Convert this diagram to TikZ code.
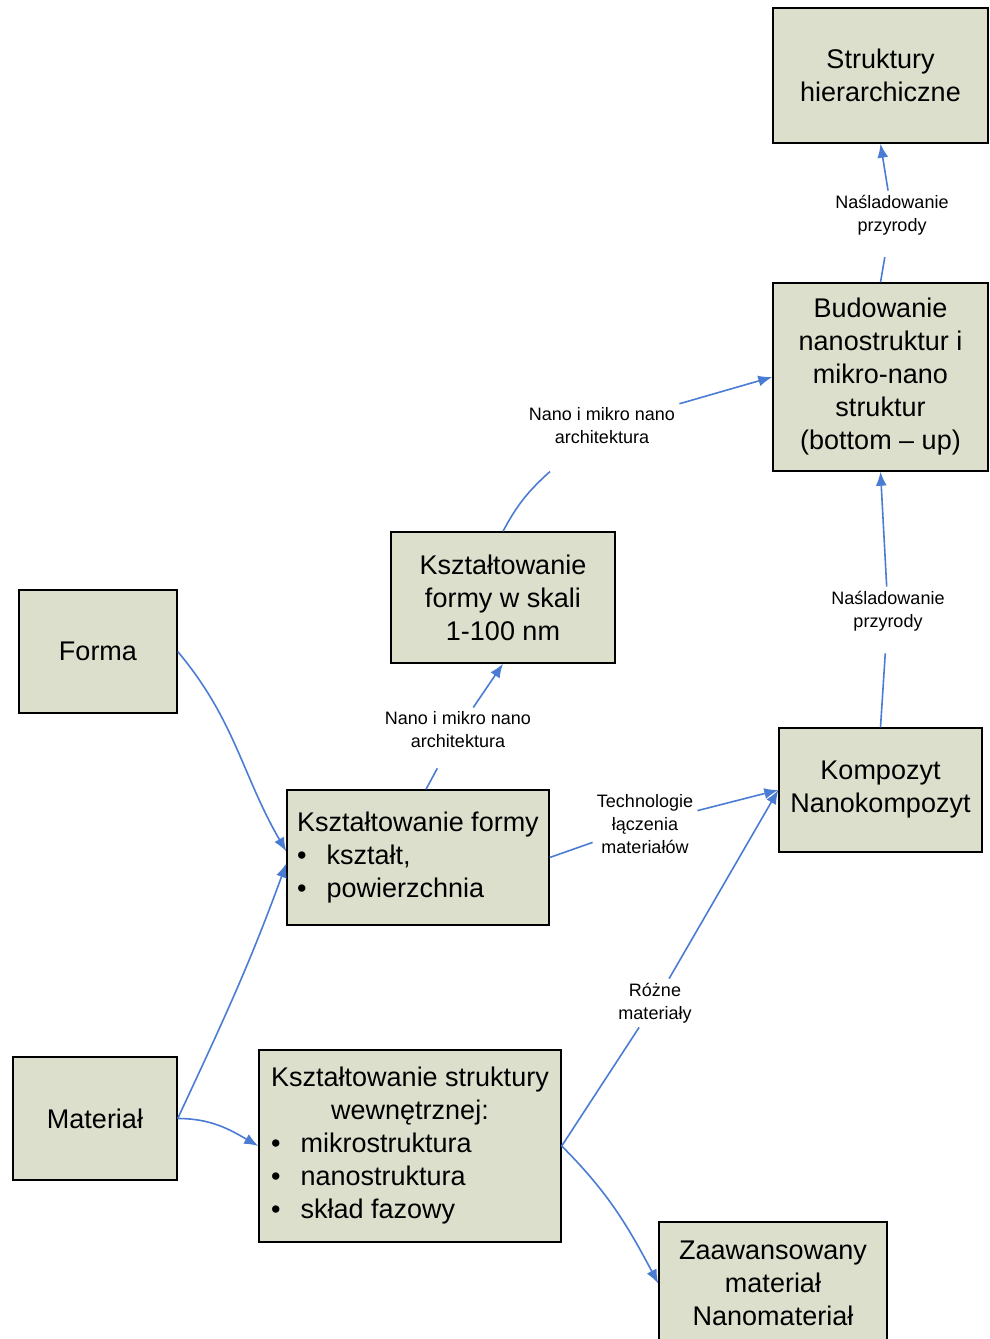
\documentclass[tikz,border=0pt]{standalone}
\usepackage{fontspec}
\setmainfont{Liberation Sans}
\usetikzlibrary{arrows.meta}
\definecolor{boxfill}{RGB}{221,223,205}
\definecolor{arrblue}{RGB}{74,124,212}
\tikzset{
  box/.style={draw=black, line width=0.7pt, fill=boxfill, align=center, inner sep=2pt,
    font=\fontsize{13.5}{16.5}\selectfont},
  lbl/.style={align=center, inner sep=2pt, font=\fontsize{9}{11.5}\selectfont},
  arr/.style={draw=arrblue, line width=0.8pt, -{Latex[length=7pt,width=5.5pt]}},
  con/.style={draw=arrblue, line width=0.8pt}
}
\begin{document}
\begin{tikzpicture}[x=0.5pt, y=-0.5pt]
    \useasboundingbox (0,0) rectangle (990,1339);

%boxes
    \node[box, minimum width=107.5pt, minimum height=67.5pt] (hier) at (880.5,75.5) {Struktury\\hierarchiczne};
    \node[box, minimum width=107.5pt, minimum height=94pt] (bud) at (880.5,377) {Budowanie\\nanostruktur i\\mikro-nano\\struktur\\(bottom -- up)};
    \node[box, minimum width=112pt, minimum height=65.5pt] (skala) at (503,597.5) {Kształtowanie\\formy w skali\\1-100 nm};
    \node[box, minimum width=79pt, minimum height=61.5pt] (forma) at (98,651.5) {Forma};
    \node[box, minimum width=131pt, minimum height=67.5pt] (ksztf) at (418,857.5) {%
      \begin{tabular}{@{}l@{\hspace{10pt}}l@{}}
      \multicolumn{2}{@{}l@{}}{Kształtowanie formy}\\
      \textbullet & kształt,\\
      \textbullet & powierzchnia
      \end{tabular}};
    \node[box, minimum width=101.5pt, minimum height=62pt] (komp) at (880.5,790) {Kompozyt\\Nanokompozyt};
    \node[box, minimum width=82pt, minimum height=61.5pt] (mat) at (95,1118.5) {Materiał};
    \node[box, minimum width=151pt, minimum height=96pt] (struk) at (410,1146) {%
      \begin{tabular}{@{}l@{\hspace{10pt}}l@{}}
      \multicolumn{2}{@{}c@{}}{Kształtowanie struktury}\\
      \multicolumn{2}{@{}c@{}}{wewnętrznej:}\\
      \textbullet & mikrostruktura\\
      \textbullet & nanostruktura\\
      \textbullet & skład fazowy
      \end{tabular}};
    \node[box, minimum width=114pt, minimum height=61.5pt] (zaaw) at (773,1283.5) {Zaawansowany\\materiał\\Nanomateriał};

%labels
    \node[lbl] (nasl2) at (892,215) {Naśladowanie\\przyrody};
    \node[lbl] (nano2) at (602,426) {Nano i mikro nano\\architektura};
    \node[lbl] (nasl1) at (888,611) {Naśladowanie\\przyrody};
    \node[lbl] (nano1) at (458,730) {Nano i mikro nano\\architektura};
    \node[lbl] (tech) at (645,824) {Technologie\\łączenia\\materiałów};
    \node[lbl] (rozne) at (655,1003) {Różne\\materiały};

%forma
    \draw[arr] (forma.east) to[out=-50,in=120] ([yshift=3pt]ksztf.west);

%material
    \draw[arr] (mat.east) to[out=65,in=-110] ([yshift=-3pt]ksztf.west);
    \draw[arr] (mat.east) to[out=0,in=150] (struk.west);

%ksztaltowanie formy
    \draw[con, shorten >=9pt] ([xshift=4pt]ksztf.north) -- (nano1);
    \draw[arr] (nano1) -- (skala.south);
    \draw[con] (ksztf.east) -- (tech);
    \draw[arr] (tech) -- (komp.west);

%skala
    \draw[con] (skala.north) to[out=62,in=-138] ([shift={(-26pt,-11.5pt)}]nano2.south);
    \draw[arr] (nano2) -- (bud.west);

%struktura
    \draw[con] (struk.east) -- (rozne);
    \draw[arr] (rozne) -- (komp.west);
    \draw[arr] (struk.east) to[out=-45,in=118] (zaaw.west);

%kompozyt
    \draw[con, shorten >=9pt] (komp.north) -- (nasl1);
    \draw[arr] (nasl1) -- (bud.south);

%budowanie
    \draw[con, shorten >=9pt] (bud.north) -- (nasl2);
    \draw[arr] (nasl2) -- (hier.south);

\end{tikzpicture}
\end{document}
